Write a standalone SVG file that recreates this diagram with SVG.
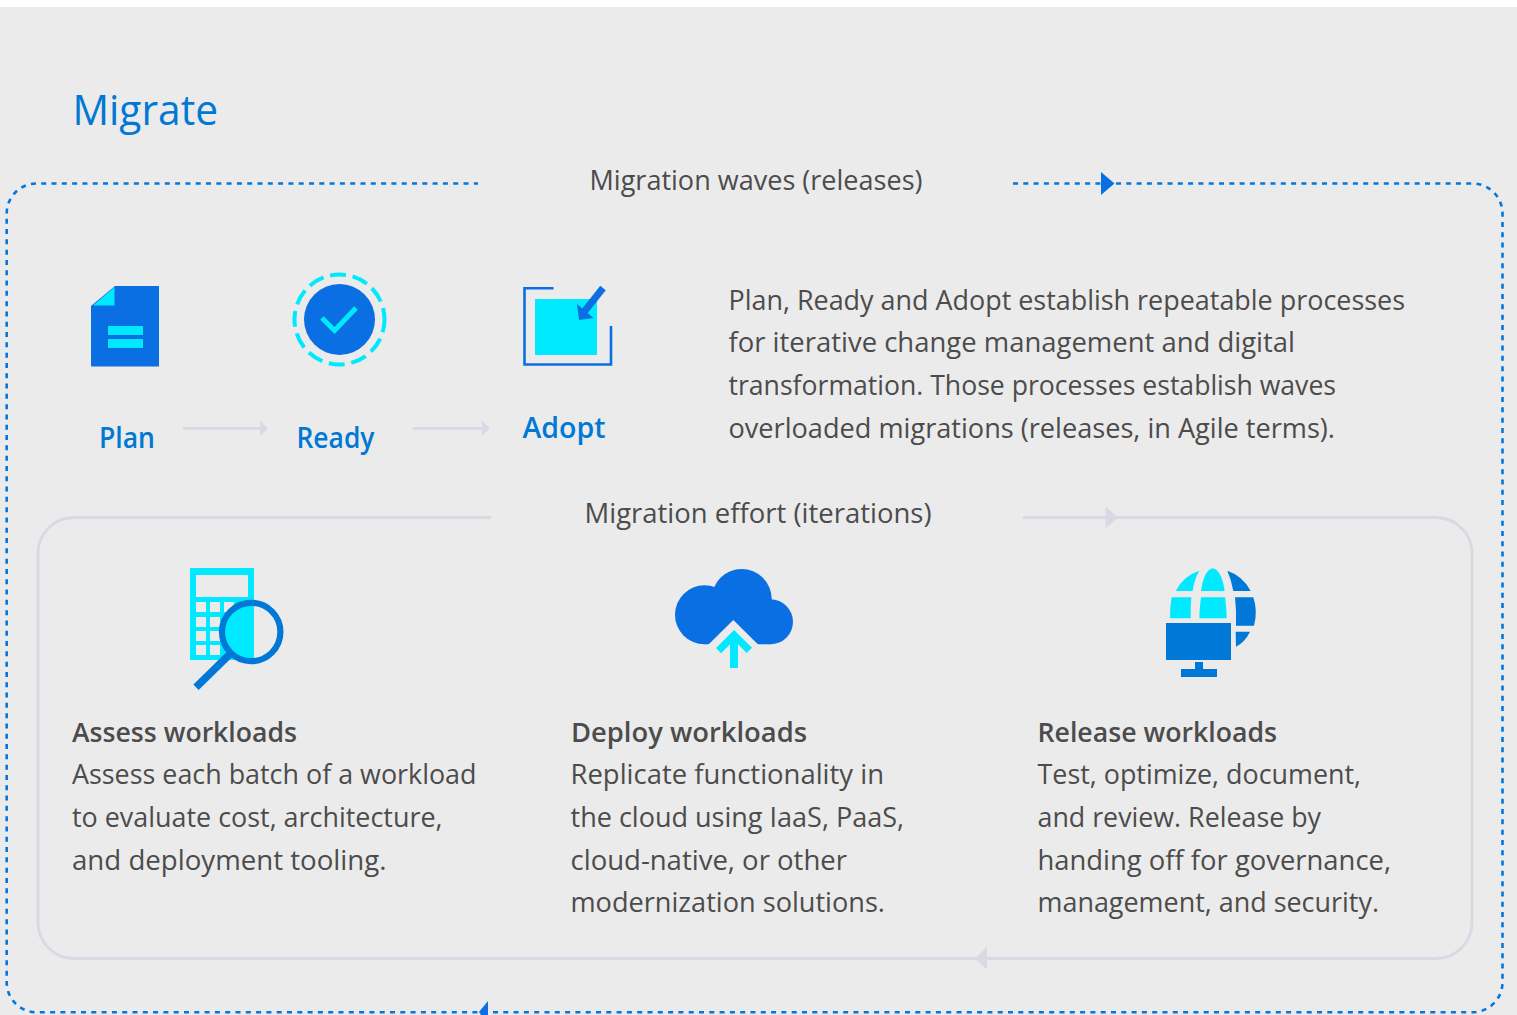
<svg xmlns="http://www.w3.org/2000/svg" width="1517" height="1015" viewBox="0 0 1517 1015">
<style>
text{font-family:"Open Sans","Noto Sans","Liberation Sans",sans-serif;fill:#4c4c4c;font-size:27px}
.h{font-weight:600}
.b{fill:#0078d4;font-weight:600;font-size:28px}
.blue{fill:#0a6fe3}.cy{fill:#00e9ff}.ms{fill:#0078d7}
.dash{fill:none;stroke:#0078e0;stroke-width:2.6;stroke-dasharray:5 5.3}
.soft{fill:none;stroke:#d8d9e3;stroke-width:2.8}
.softh{fill:#d8d9e3}
</style>
<rect width="1517" height="1015" fill="#fff"/>
<rect y="7" width="1517" height="1008" fill="#ebebeb"/>
<g id="connectors">
<path class="dash" d="M1013 183.500H1472.500A30 30 0 0 1 1502.500 213.500V982A30 30 0 0 1 1472.500 1012.300H36.700A30 30 0 0 1 6.700 982V213.500A30 30 0 0 1 36.700 183.500H478"/>
<path class="blue" d="M1101 172L1114.500 183.500L1101 195Z"/>
<path class="blue" d="M479 1012L488 1001V1015H481Z"/>
<path class="soft" d="M1023 517.500H1436A36 36 0 0 1 1472 553.500V922.500A36 36 0 0 1 1436 958.500H74A36 36 0 0 1 38 922.500V553.500A36 36 0 0 1 74 517.500H491"/>
<path class="softh" d="M1105.500 506.500L1118 517.500L1105.500 528.500Z"/>
<path class="softh" d="M987 947L975 958.500L987 969.500Z"/>
<path class="soft" d="M183 428.300H262"/>
<path class="softh" d="M260 421L268 428.300L260 436Z"/>
<path class="soft" d="M412.500 428.300H483"/>
<path class="softh" d="M482 421L490 428.300L482 436Z"/>
</g>
<text id="title" x="72.500" y="125" textLength="145.500" lengthAdjust="spacingAndGlyphs" style="fill:#0078d4;font-size:42px">Migrate</text>
<text id="waves-label" x="589.500" y="190" textLength="333" lengthAdjust="spacingAndGlyphs">Migration waves (releases)</text>
<text id="effort-label" x="584.500" y="523" textLength="347" lengthAdjust="spacingAndGlyphs">Migration effort (iterations)</text>
<g id="plan">
<path class="blue" d="M91 306L115 286H159V366.500H91Z"/>
<path class="cy" d="M93 305.500L114.500 287V305.500Z"/>
<rect class="cy" x="108" y="326" width="35" height="9"/>
<rect class="cy" x="108" y="339" width="35" height="9"/>
<text class="b" x="99" y="448" textLength="56" lengthAdjust="spacingAndGlyphs">Plan</text>
</g>
<g id="ready">
<circle class="blue" cx="339.500" cy="319.500" r="35.500"/>
<circle cx="339.500" cy="319.500" r="45" fill="none" stroke="#00e9ff" stroke-width="4" stroke-dasharray="16 6.800" stroke-dashoffset="3"/>
<path d="M322 318L334.500 330.500L356 308" fill="none" stroke="#00e9ff" stroke-width="5"/>
<text class="b" x="296.500" y="448" textLength="78" lengthAdjust="spacingAndGlyphs">Ready</text>
</g>
<g id="adopt">
<rect class="cy" x="535" y="299" width="62" height="56"/>
<path d="M553.500 288.300H524.500V364.500H611V326" fill="none" stroke="#0a6fe3" stroke-width="2.600"/>
<path d="M603 288L584 312" fill="none" stroke="#0a6fe3" stroke-width="7"/>
<path class="blue" d="M577 304L579 320L593.500 318Z"/>
<text class="b" x="522.500" y="438" textLength="83" lengthAdjust="spacingAndGlyphs">Adopt</text>
</g>
<g id="intro">
<text x="728.500" y="310" textLength="676.500" lengthAdjust="spacingAndGlyphs">Plan, Ready and Adopt establish repeatable processes</text>
<text x="728.500" y="352" textLength="566.500" lengthAdjust="spacingAndGlyphs">for iterative change management and digital</text>
<text x="728.500" y="395" textLength="607.500" lengthAdjust="spacingAndGlyphs">transformation. Those processes establish waves</text>
<text x="728.500" y="438" textLength="606.500" lengthAdjust="spacingAndGlyphs">overloaded migrations (releases, in Agile terms).</text>
</g>
<g id="assess">
<path class="cy" fill-rule="evenodd" d="M190 568H254V660H190ZM196 575V597H248V575ZM196 602V612H206V602ZM210 602V612H220V602ZM224 602V612H234V602ZM196 617V627H206V617ZM210 617V627H220V617ZM196 631V641H206V631ZM210 631V641H220V631ZM196 645V655H206V645ZM210 645V655H220V645Z"/>
<path d="M254 603.500A29 29 0 0 1 254 660.500Z" fill="#ebebeb"/>
<circle cx="251.200" cy="632" r="29.200" fill="none" stroke="#0078d7" stroke-width="6.200"/>
<path d="M196 687.300L230 654" fill="none" stroke="#0078d7" stroke-width="7.500"/>
<text class="h" x="72" y="742" textLength="225" lengthAdjust="spacingAndGlyphs">Assess workloads</text>
<text x="72" y="784" textLength="404.500" lengthAdjust="spacingAndGlyphs">Assess each batch of a workload</text>
<text x="72" y="827" textLength="370.500" lengthAdjust="spacingAndGlyphs">to evaluate cost, architecture,</text>
<text x="72" y="870" textLength="314.500" lengthAdjust="spacingAndGlyphs">and deployment tooling.</text>
</g>
<g id="deploy">
<circle class="blue" cx="704.500" cy="614.800" r="29.500"/>
<circle class="blue" cx="741.700" cy="599" r="30"/>
<circle class="blue" cx="770.500" cy="621.800" r="22.500"/>
<path class="blue" d="M704.500 644.300H770.500V600L705 590Z"/>
<path d="M708 645L733.300 620L758.600 645Z" fill="#ebebeb"/>
<path class="cy" d="M734 630L752 647.700L746.700 653L738 644.300V668H730V644.300L721 653.300L716 648Z"/>
<text class="h" x="571" y="742" textLength="236" lengthAdjust="spacingAndGlyphs">Deploy workloads</text>
<text x="570.500" y="784" textLength="313.500" lengthAdjust="spacingAndGlyphs">Replicate functionality in</text>
<text x="570.500" y="827" textLength="333.500" lengthAdjust="spacingAndGlyphs">the cloud using IaaS, PaaS,</text>
<text x="570.500" y="870" textLength="276.500" lengthAdjust="spacingAndGlyphs">cloud-native, or other</text>
<text x="570.500" y="912" textLength="314.500" lengthAdjust="spacingAndGlyphs">modernization solutions.</text>
</g>
<g id="release">
<path class="cy" d="M1199.300 570.700Q1183 576 1175.700 591H1192.700Q1194 580 1199.300 570.700Z"/>
<path class="cy" d="M1201 591Q1204 570 1212.700 568.300Q1221.500 570 1224.700 591Z"/>
<path class="ms" d="M1227.300 570.700Q1243 576 1250.700 591H1233.300Q1231.500 580 1227.300 570.700Z"/>
<path class="cy" d="M1171.700 597.300H1191.300Q1190.300 608 1190.700 618.300H1170Q1169.800 607 1171.700 597.300Z"/>
<path class="cy" d="M1201 597.300H1225Q1226.500 608 1226.700 618.300H1199.300Q1199.500 608 1201 597.300Z"/>
<path class="ms" d="M1235 597.300H1253.300Q1258 611 1254 625.700H1236Q1236.500 611 1235 597.300Z"/>
<path class="ms" d="M1235.700 631.700H1250Q1245 642 1236 646.700Z"/>
<rect class="ms" x="1166" y="623" width="65" height="37"/>
<rect class="ms" x="1195" y="662" width="8" height="7"/>
<rect class="ms" x="1181" y="669" width="36" height="8"/>
<text class="h" x="1037.500" y="742" textLength="239.500" lengthAdjust="spacingAndGlyphs">Release workloads</text>
<text x="1037.500" y="784" textLength="323.500" lengthAdjust="spacingAndGlyphs">Test, optimize, document,</text>
<text x="1037.500" y="827" textLength="283.500" lengthAdjust="spacingAndGlyphs">and review. Release by</text>
<text x="1037.500" y="870" textLength="353.500" lengthAdjust="spacingAndGlyphs">handing off for governance,</text>
<text x="1037.500" y="912" textLength="341.500" lengthAdjust="spacingAndGlyphs">management, and security.</text>
</g>
</svg>
